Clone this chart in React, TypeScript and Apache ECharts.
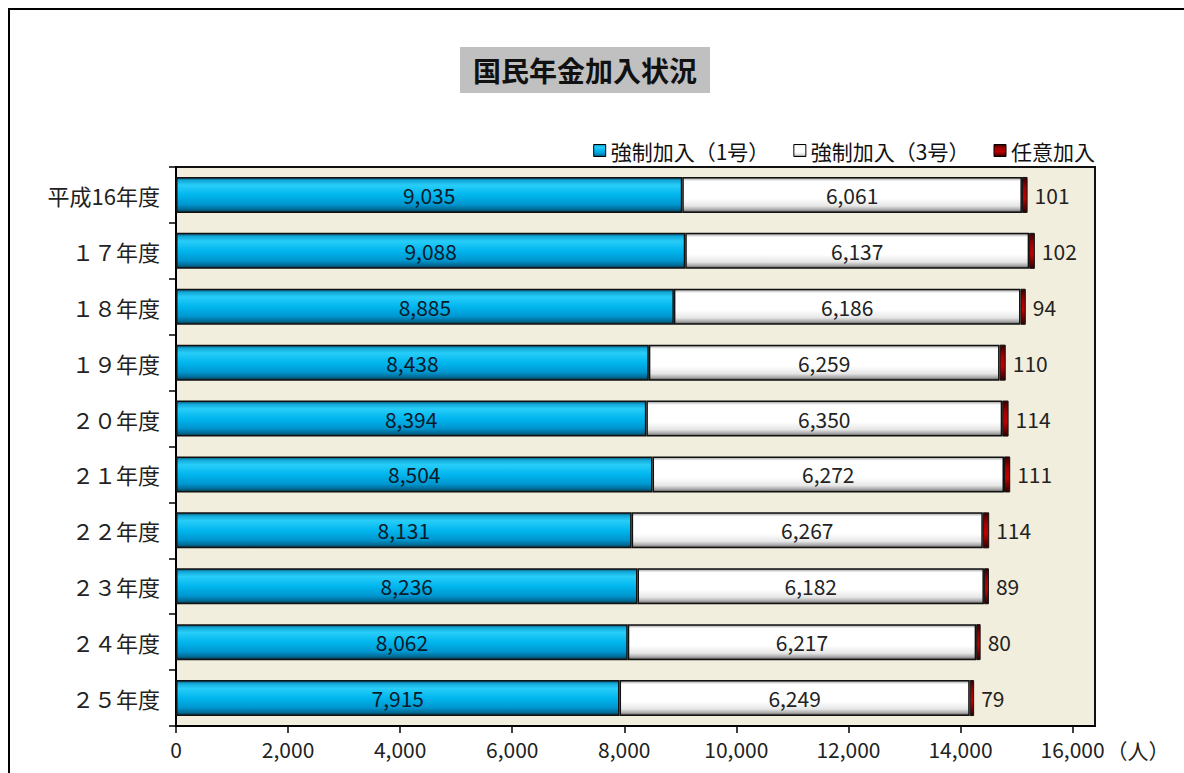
import React, { useEffect, useRef } from "react";
import * as echarts from "echarts";

const categories = ["平成16年度", "１７年度", "１８年度", "１９年度", "２０年度", "２１年度", "２２年度", "２３年度", "２４年度", "２５年度"];
const compulsory1 = [9035, 9088, 8885, 8438, 8394, 8504, 8131, 8236, 8062, 7915];
const compulsory3 = [6061, 6137, 6186, 6259, 6350, 6272, 6267, 6182, 6217, 6249];
const voluntary = [101, 102, 94, 110, 114, 111, 114, 89, 80, 79];
const seriesNames = ["強制加入（1号）", "強制加入（3号）", "任意加入"];
const xTicks = [0, 2000, 4000, 6000, 8000, 10000, 12000, 14000, 16000];

const FONT = "'Noto Sans CJK JP', 'Noto Sans', sans-serif";

const fmt = (v: number) => v.toLocaleString("en-US");

export default function App() {
  const ref = useRef<HTMLDivElement>(null);
  useEffect(() => {
    if (!ref.current) return;
    document.body.style.margin = "0";
    document.body.style.overflow = "hidden";
    const chart = echarts.init(ref.current, undefined, { renderer: "svg" });
    const V = (stops: [number, string][]) =>
      new echarts.graphic.LinearGradient(0, 0, 0, 1, stops.map(([offset, color]) => ({ offset, color })));
    const blue = V([
      [0, "#0b4f6c"],
      [0.08, "#12a8d8"],
      [0.22, "#28cdf8"],
      [0.5, "#00b6ee"],
      [0.78, "#0096cf"],
      [0.92, "#006a94"],
      [1, "#0a3344"],
    ]);
    const white = V([
      [0, "#9a9a9a"],
      [0.1, "#ffffff"],
      [0.6, "#ffffff"],
      [0.82, "#e6e6e6"],
      [0.93, "#a8a8a8"],
      [1, "#555555"],
    ]);
    const red = V([
      [0, "#3a0000"],
      [0.3, "#a00000"],
      [0.6, "#c00000"],
      [1, "#300000"],
    ]);
    const xMax = 16400;
    const common = {
      type: "bar",
      stack: "total",
      barWidth: 36,
    };
    chart.setOption({
      animation: false,
      textStyle: { fontFamily: FONT },
      graphic: [
        { type: "line", shape: { x1: 8, y1: 9, x2: 1184, y2: 9 }, style: { stroke: "#000", lineWidth: 2 } },
        { type: "line", shape: { x1: 9, y1: 8, x2: 9, y2: 773 }, style: { stroke: "#000", lineWidth: 2 } },
        { type: "rect", shape: { x: 460, y: 47, width: 250, height: 46 }, style: { fill: "#c0c0c0" } },
        {
          type: "text",
          x: 585,
          y: 70,
          style: {
            text: "国民年金加入状況",
            fontSize: 28,
            fontWeight: "bold",
            fontFamily: FONT,
            fill: "#111",
            align: "center",
            verticalAlign: "middle",
          },
        },
        {
          type: "text",
          x: 1138,
          y: 750,
          style: {
            text: "（人）",
            fontSize: 21,
            fontFamily: FONT,
            fill: "#222",
            align: "center",
            verticalAlign: "middle",
          },
        },
      ],
      legend: {
        top: 135,
        right: 84,
        itemWidth: 12,
        itemHeight: 12,
        itemGap: 24,
        icon: "rect",
        textStyle: { fontSize: 21, color: "#111", fontFamily: FONT },
        data: seriesNames.map((n) => ({ name: n, itemStyle: { borderColor: "#000", borderWidth: 1 } })),
      },
      grid: {
        left: 176,
        right: 89,
        top: 167,
        bottom: 47,
        show: true,
        backgroundColor: "#f2eedd",
        borderColor: "#111",
        borderWidth: 2,
      },
      xAxis: {
        type: "value",
        min: 0,
        max: xMax,
        interval: 2000,
        splitLine: { show: false },
        axisLine: { show: true, lineStyle: { color: "#000", width: 2 } },
        axisTick: { show: true, length: 7, inside: false, lineStyle: { color: "#000", width: 1.5 } },
        axisLabel: {
          showMaxLabel: false,
          fontSize: 21,
          color: "#222",
          margin: 12,
          fontFamily: FONT,
          formatter: (v: number) => (xTicks.includes(v) ? fmt(v) : ""),
        },
      },
      yAxis: {
        type: "category",
        inverse: true,
        data: categories,
        axisLine: { show: true, lineStyle: { color: "#000", width: 2 } },
        axisTick: { show: true, length: 7, lineStyle: { color: "#000", width: 1.5 } },
        axisLabel: { fontSize: 22, color: "#222", margin: 16, fontFamily: FONT },
      },
      series: [
        {
          ...common,
          name: seriesNames[0],
          data: compulsory1,
          itemStyle: { color: blue, borderColor: "#111", borderWidth: 1.5 },
          label: { show: true, position: "inside", fontSize: 21, color: "#0a1a2a", fontFamily: FONT, formatter: (p: any) => fmt(p.value) },
        },
        {
          ...common,
          name: seriesNames[1],
          data: compulsory3,
          itemStyle: { color: white, borderColor: "#111", borderWidth: 1.5 },
          label: { show: true, position: "inside", fontSize: 21, color: "#222", fontFamily: FONT, formatter: (p: any) => fmt(p.value) },
        },
        {
          ...common,
          name: seriesNames[2],
          data: voluntary,
          itemStyle: { color: red, borderColor: "#111", borderWidth: 1 },
          label: { show: true, position: "right", distance: 7, fontSize: 21, color: "#222", fontFamily: FONT, formatter: (p: any) => fmt(p.value) },
        },
      ],
    });
    return () => chart.dispose();
  }, []);
  return <div ref={ref} style={{ width: 1184, height: 773 }} />;
}
